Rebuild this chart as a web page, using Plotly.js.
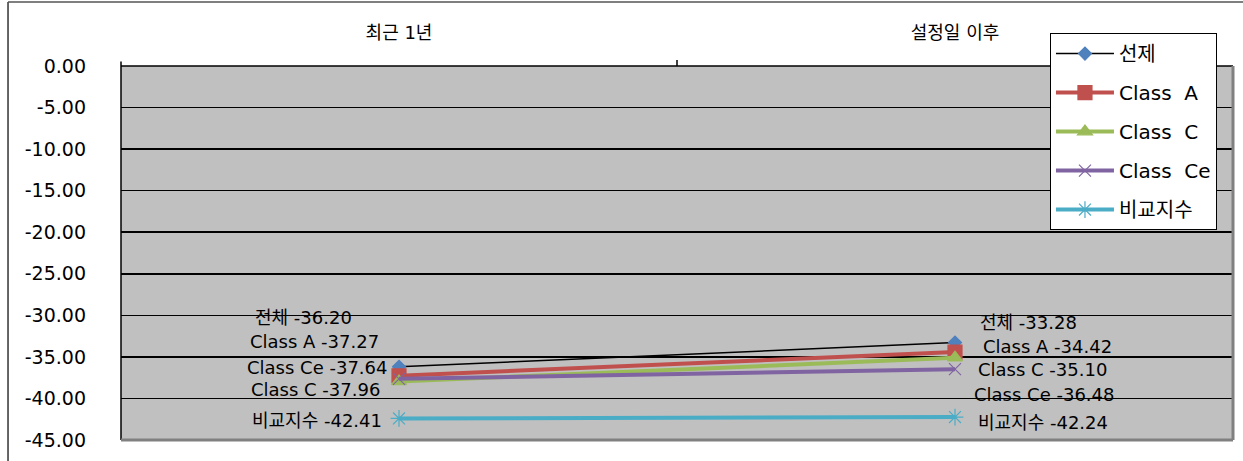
<!DOCTYPE html>
<html>
<head>
<meta charset="utf-8">
<script src="https://cdn.plot.ly/plotly-3.0.1.min.js"></script>
<style>
html,body{margin:0;padding:0;background:#fff;}
#chart{width:1243px;height:461px;}
</style>
</head>
<body>
<div id="chart"></div>
<script>
var categories = ["최근 1년", "설정일 이후"];
var seriesNames = ["선제", "Class  A", "Class  C", "Class  Ce", "비교지수"];
var labelNames = ["전체", "Class A", "Class C", "Class Ce", "비교지수"];
var valsTotal = [-36.20, -33.28];
var valsA = [-37.27, -34.42];
var valsC = [-37.96, -35.10];
var valsCe = [-37.64, -36.48];
var valsIndex = [-42.41, -42.24];
var yTicks = [0, -5, -10, -15, -20, -25, -30, -35, -40, -45];

var allVals = [valsTotal, valsA, valsC, valsCe, valsIndex];
var lineColors = ["#000000", "#C0504D", "#9BBB59", "#8064A2", "#4BACC6"];
var markerColors = ["#4F81BD", "#C0504D", "#9BBB59", "#8064A2", "#4BACC6"];
var symbols = ["diamond", "square", "triangle-up", "x-thin-open", "asterisk-open"];
var lineWidths = [1.5, 4, 4, 4, 4];
var markerSizes = [10, 14, 13, 12, 14];

var FONT = "DejaVu Sans, Noto Sans CJK KR, sans-serif";

var traces = allVals.map(function (v, i) {
  return {
    type: "scatter", mode: "lines+markers",
    x: [0, 1], y: v, name: seriesNames[i],
    legendgroup: "g" + i,
    line: {color: lineColors[i], width: lineWidths[i]},
    marker: {symbol: symbols[i], size: markerSizes[i], color: markerColors[i],
             line: {color: markerColors[i], width: 1.2}},
    hoverinfo: "skip"
  };
});

// label offsets (pixels) relative to each point
var leftShift = [[-45, 49], [-18, 34], [-17, -8], [-10, 11], [-15, -2]];
var rightShift = [[23, 20], [26, 6], [21, -12], [17, -25], [21, -5]];

var annotations = [];
allVals.forEach(function (v, i) {
  annotations.push({x: 0, y: v[0], xref: "x", yref: "y", showarrow: false,
    text: labelNames[i] + " " + v[0].toFixed(2), xanchor: "right", yanchor: "middle",
    xshift: leftShift[i][0], yshift: leftShift[i][1],
    font: {family: FONT, size: 18, color: "#000"}});
  annotations.push({x: 1, y: v[1], xref: "x", yref: "y", showarrow: false,
    text: labelNames[i] + " " + v[1].toFixed(2), xanchor: "left", yanchor: "middle",
    xshift: rightShift[i][0], yshift: rightShift[i][1],
    font: {family: FONT, size: 18, color: "#000"}});
});

var layout = {
  width: 1243, height: 461,
  margin: {l: 121, r: 10, t: 66, b: 21},
  paper_bgcolor: "#ffffff",
  plot_bgcolor: "#C0C0C0",
  font: {family: FONT, size: 15, color: "#000"},
  showlegend: true,
  legend: {x: 0.8354, y: 1.088, xanchor: "left", yanchor: "top",
           bgcolor: "#ffffff", bordercolor: "#000000", borderwidth: 1,
           font: {family: FONT, size: 20, color: "#000"},
           tracegroupgap: 10, itemwidth: 58},
  xaxis: {
    type: "linear", side: "top", range: [-0.5, 1.5],
    tickmode: "array", tickvals: [0, 1], ticktext: categories,
    showgrid: false, zeroline: false, showline: false,
    ticks: "", ticklabelstandoff: 22,
    tickfont: {family: FONT, size: 18, color: "#000"},
    fixedrange: true
  },
  yaxis: {
    range: [-45, 0], tickmode: "array", tickvals: yTicks,
    ticktext: yTicks.map(function (t) { return t.toFixed(2); }),
    showgrid: true, gridcolor: "#000000", gridwidth: 1.5,
    zeroline: false, showline: false, ticks: "",
    ticklabelstandoff: 34,
    tickfont: {family: FONT, size: 19, color: "#000"},
    fixedrange: true
  },
  annotations: annotations,
  shapes: [
    {type: "line", xref: "paper", yref: "paper", x0: -0.1016, x1: -0.1016, y0: -0.2, y1: 1.171,
     line: {color: "#333", width: 1.5}},
    {type: "line", xref: "paper", yref: "paper", x0: -0.1016, x1: 1.02, y0: 1.171, y1: 1.171,
     line: {color: "#555", width: 1.5}},
    {type: "line", xref: "paper", yref: "paper", x0: 0, x1: 1, y0: 1, y1: 1,
     line: {color: "#000", width: 1.5}},
    {type: "line", xref: "paper", yref: "paper", x0: 0, x1: 0, y0: 0, y1: 1.012,
     line: {color: "#000", width: 1.5}},
    {type: "line", xref: "paper", yref: "paper", x0: 0.5, x1: 0.5, y0: 1, y1: 1.016,
     line: {color: "#000", width: 1.5}},
    {type: "line", xref: "paper", yref: "paper", x0: 1, x1: 1, y0: 0, y1: 1,
     line: {color: "#808080", width: 3}},
    {type: "line", xref: "paper", yref: "paper", x0: 0, x1: 1, y0: 0, y1: 0,
     line: {color: "#808080", width: 3}}
  ]
};

Plotly.newPlot("chart", traces, layout, {displayModeBar: false, staticPlot: true});
</script>
</body>
</html>
